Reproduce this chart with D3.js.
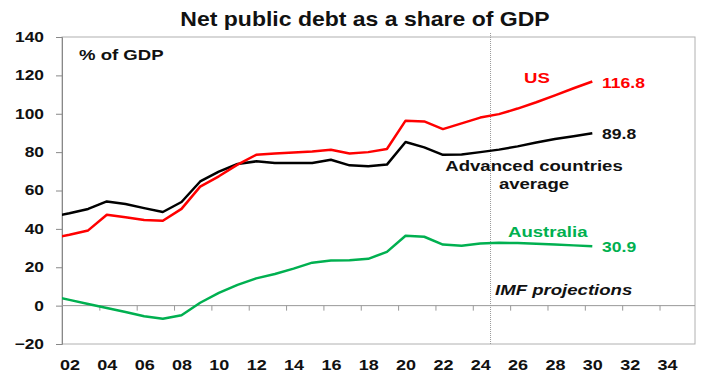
<!DOCTYPE html>
<html>
<head>
<meta charset="utf-8">
<script src="https://cdn.jsdelivr.net/npm/d3@7"></script>
<style>
  body { margin: 0; background: #fff; }
  svg text { font-family: "Liberation Sans", Arial, sans-serif; font-weight: bold; }
</style>
</head>
<body>
<svg id="chart" width="702" height="374"></svg>
<script>
// data (annual, % of GDP) - 2001 point sits just left of the plot and gets clipped
const years = [2001, 2002, 2003, 2004, 2005, 2006, 2007, 2008, 2009, 2010,
  2011, 2012, 2013, 2014, 2015, 2016, 2017, 2018, 2019, 2020,
  2021, 2022, 2023, 2024, 2025, 2026, 2027, 2028, 2029, 2030];
const us = [35.0, 36.9, 39.2, 47.4, 46.0, 44.6, 44.2, 50.4, 62.0, 67.4,
  73.5, 78.6, 79.3, 79.8, 80.3, 81.2, 79.3, 80.0, 81.6, 96.4,
  96.0, 92.0, 95.0, 98.0, 99.8, 102.7, 106.0, 109.6, 113.3, 116.8];
const advanced = [46.3, 48.1, 50.4, 54.3, 53.0, 50.8, 48.8, 54.0, 64.7, 69.8,
  73.8, 75.2, 74.3, 74.3, 74.3, 76.0, 73.1, 72.7, 73.5, 85.3,
  82.5, 78.6, 78.8, 80.0, 81.3, 83.0, 85.0, 86.8, 88.3, 89.8];
const australia = [5.2, 3.0, 0.8, -1.2, -3.3, -5.5, -6.8, -5.0, 1.5, 6.6,
  10.8, 14.2, 16.5, 19.3, 22.4, 23.5, 23.6, 24.4, 28.0, 36.4,
  35.9, 31.8, 31.2, 32.4, 32.8, 32.6, 32.3, 31.8, 31.4, 30.9];
const yTicks = [-20, 0, 20, 40, 60, 80, 100, 120, 140];
const xLabelYears = [2002, 2004, 2006, 2008, 2010, 2012, 2014, 2016, 2018,
  2020, 2022, 2024, 2026, 2028, 2030, 2032, 2034];
const xTickYears = [2003.6, 2005.6, 2007.6, 2009.6, 2011.6, 2013.6, 2015.6, 2017.6,
  2019.6, 2021.6, 2023.6, 2025.6, 2027.6, 2029.6, 2031.6, 2033.6];
const projectionStart = 2024.55;

const svg = d3.select("#chart");
const pL = 62, pR = 695, pT = 37, pB = 344;
const sx = 1.24; // the excel text is drawn wide

const x = d3.scaleLinear().domain([2001.6, 2035.5]).range([pL, pR]);
const y = d3.scaleLinear().domain([-20, 140]).range([pB, pT]);

// wide text helper
function wideText(t, px, py, opts) {
  return svg.append("text")
    .attr("transform", `translate(${px},${py}) scale(${opts.sx || sx},1)`)
    .attr("text-anchor", opts.anchor || "start")
    .attr("font-size", opts.size || 15)
    .attr("font-style", opts.italic ? "italic" : null)
    .attr("fill", opts.color || "#111")
    .text(t);
}

// title
wideText("Net public debt as a share of GDP", 365, 26, { anchor: "middle", size: 19.5, sx: 1.18 });

// plot frame
svg.append("rect")
  .attr("x", pL).attr("y", pT)
  .attr("width", pR - pL).attr("height", pB - pT)
  .attr("fill", "none").attr("stroke", "#b0b0b0").attr("stroke-width", 1);

// y axis
const yAxis = svg.append("g")
  .attr("transform", `translate(${pL},0)`)
  .call(d3.axisLeft(y).tickValues(yTicks).tickSize(6));
yAxis.select(".domain").attr("stroke", "#888");
yAxis.selectAll(".tick line").attr("stroke", "#888");
yAxis.selectAll("text").attr("font-size", 14).attr("fill", "#111")
  .attr("x", -18 / sx)
  .attr("transform", `scale(${sx},1)`)
  .style("font-family", "'Liberation Sans', Arial, sans-serif");

// zero line with tick marks
const xAxis = svg.append("g")
  .attr("transform", `translate(0,${y(0)})`)
  .call(d3.axisBottom(x).tickValues(xTickYears).tickSize(5).tickFormat(""));
xAxis.select(".domain").attr("stroke", "#999").attr("d", `M${pL},0H${pR}`);
xAxis.selectAll(".tick line").attr("stroke", "#999");

// year labels along the bottom
const xLab = svg.append("g")
  .attr("transform", `translate(0,${pB})`)
  .call(d3.axisBottom(x).tickValues(xLabelYears).tickSize(0).tickPadding(15)
    .tickFormat(d => String(d % 100).padStart(2, "0")));
xLab.select(".domain").remove();
xLab.selectAll("text").attr("font-size", 15).attr("fill", "#111")
  .attr("transform", "scale(1.2,1)")
  .style("font-family", "'Liberation Sans', Arial, sans-serif");

// projection marker
svg.append("line")
  .attr("x1", x(projectionStart)).attr("x2", x(projectionStart))
  .attr("y1", 33).attr("y2", pB)
  .attr("stroke", "#999").attr("stroke-width", 1).attr("stroke-dasharray", "1,1");

svg.append("defs").append("clipPath").attr("id", "plotclip")
  .append("rect").attr("x", pL).attr("y", pT)
  .attr("width", pR - pL).attr("height", pB - pT);

const line = d3.line().x((d, i) => x(years[i])).y(d => y(d));
const series = [
  { vals: australia, color: "#00b050" },
  { vals: advanced, color: "#000000" },
  { vals: us, color: "#ff0000" }
];
svg.append("g").attr("clip-path", "url(#plotclip)")
  .selectAll("path").data(series).join("path")
  .attr("d", d => line(d.vals))
  .attr("fill", "none")
  .attr("stroke", d => d.color)
  .attr("stroke-width", 2.5)
  .attr("stroke-linejoin", "round");

// annotations
const last = years.length - 1;
wideText("% of GDP", 79, 60, {});
wideText("US", 524, 83, { color: "#ff0000" });
wideText(String(us[last]), 602, y(us[last]) + 6, { color: "#ff0000", sx: 1.17 });
wideText(String(advanced[last]), 602, y(advanced[last]) + 6, { sx: 1.17 });
wideText("Advanced countries", 534, 171, { anchor: "middle" });
wideText("average", 534, 189, { anchor: "middle" });
wideText("Australia", 508, 237, { color: "#00b050" });
wideText(String(australia[last]), 602, y(australia[last]) + 6, { color: "#00b050", sx: 1.17 });
wideText("IMF projections", 495, 295, { italic: true });
</script>
</body>
</html>
